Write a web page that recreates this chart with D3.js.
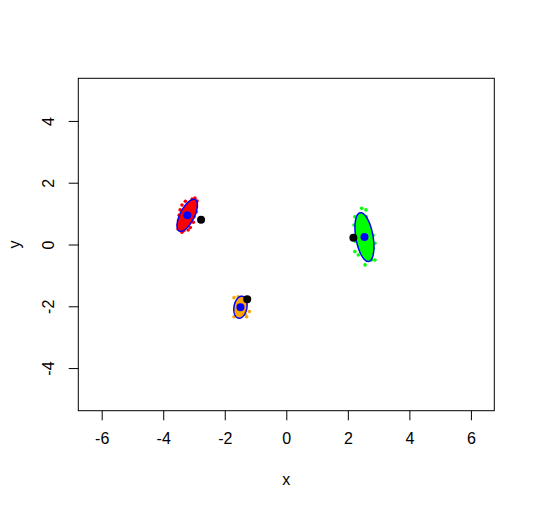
<!DOCTYPE html>
<html>
<head>
<meta charset="utf-8">
<script src="https://cdn.jsdelivr.net/npm/d3@7"></script>
<style>
  body { margin: 0; background: #fff; }
  text { font-family: "Liberation Sans", Arial, sans-serif; }
</style>
</head>
<body>
<svg id="chart" width="535" height="509"></svg>
<script>
// tick values
const xTicks = [-6, -4, -2, 0, 2, 4, 6]
const yTicks = [-4, -2, 0, 2, 4]

// clusters: colour, sample points, fitted ellipse (centre, semi axes, angle in degrees), true mean
const clusterColors = ['red', '#00ff00', 'orange']

const redPoints = [[-2.97, 1.50], [-2.90, 1.41], [-3.06, 1.47], [-3.39, 1.28], [-3.45, 1.12],
  [-3.52, 0.50], [-3.52, 0.63], [-3.39, 0.40], [-3.19, 0.47], [-2.93, 1.05], [-3.02, 0.72],
  [-3.10, 1.30], [-3.30, 0.70], [-3.20, 1.00], [-3.35, 0.85], [-3.05, 1.15], [-3.42, 0.55],
  [-2.98, 1.35], [-3.25, 0.62], [-3.14, 1.20], [-3.48, 0.95], [-3.50, 0.78], [-3.28, 1.40],
  [-2.92, 1.22], [-3.00, 0.90], [-3.33, 0.45], [-3.12, 0.55]]
const greenPoints = [[2.45, 1.17], [2.59, 1.12], [2.23, 0.90], [2.20, 0.63], [2.88, 0.04],
  [2.83, -0.12], [2.23, -0.23], [2.88, -0.50], [2.56, -0.66], [2.77, -0.50], [2.34, -0.34],
  [2.40, 0.80], [2.55, 0.50], [2.65, 0.10], [2.50, -0.20], [2.35, 0.30], [2.70, -0.30],
  [2.45, 0.60], [2.60, 0.90], [2.75, -0.10], [2.25, 0.10], [2.82, 0.30]]
const orangePoints = [[-1.70, -1.72], [-1.56, -1.69], [-1.70, -2.34], [-1.29, -2.34],
  [-1.20, -2.17], [-1.34, -2.26], [-1.55, -1.90], [-1.42, -2.15], [-1.60, -2.20], [-1.38, -1.85]]

const ellipseCenters = [[-3.22, 0.945], [2.54, 0.24], [-1.49, -2.03]]
const ellipseAxes = [[0.57, 0.23], [0.80, 0.28], [0.36, 0.21]]
const ellipseAngles = [63, 100, 80]
const trueMeans = [[-2.77, 0.80], [2.18, 0.22], [-1.27, -1.77]]

const samples = [redPoints, greenPoints, orangePoints]

const plotLeft = 78.3
const plotRight = 494.3
const plotTop = 78.3
const plotBottom = 410.7

const svg = d3.select('#chart')

const xScale = d3.scaleLinear().domain([-6.76, 6.76]).range([plotLeft, plotRight])
const yScale = d3.scaleLinear().domain([-5.38, 5.38]).range([plotBottom, plotTop])

const fmt = d => d < 0 ? '-' + Math.abs(d) : String(d)

// axes
const xAxis = d3.axisBottom(xScale).tickValues(xTicks).tickSize(9.6).tickPadding(12).tickFormat(fmt)
const yAxis = d3.axisLeft(yScale).tickValues(yTicks).tickSize(9.6).tickPadding(8).tickFormat(fmt)

const gx = svg.append('g')
  .attr('transform', `translate(0, ${plotBottom})`)
  .call(xAxis)
gx.select('.domain').remove()
gx.selectAll('line').attr('stroke', '#000')
gx.selectAll('text')
  .attr('font-size', 16)
  .attr('fill', '#000')

const gy = svg.append('g')
  .attr('transform', `translate(${plotLeft}, 0)`)
  .call(yAxis)
gy.select('.domain').remove()
gy.selectAll('line').attr('stroke', '#000')
gy.selectAll('.tick text')
  .attr('font-size', 16)
  .attr('fill', '#000')
  .attr('text-anchor', 'middle')
  .attr('dy', 0)
  .attr('x', 0)
  .attr('y', 0)
  .attr('transform', 'translate(-24, 0) rotate(-90)')

// axis titles
svg.append('text')
  .attr('x', (plotLeft + plotRight) / 2)
  .attr('y', 485)
  .attr('text-anchor', 'middle')
  .attr('font-size', 16)
  .text('x')

svg.append('text')
  .attr('transform', `translate(20, ${(plotTop + plotBottom) / 2}) rotate(-90)`)
  .attr('text-anchor', 'middle')
  .attr('font-size', 16)
  .text('y')

// plot box
svg.append('rect')
  .attr('x', plotLeft)
  .attr('y', plotTop)
  .attr('width', plotRight - plotLeft)
  .attr('height', plotBottom - plotTop)
  .attr('fill', 'none')
  .attr('stroke', '#000')
  .attr('stroke-width', 1)

const plot = svg.append('g')

samples.forEach((pts, i) => {
  plot.selectAll(null)
    .data(pts)
    .join('circle')
    .attr('cx', d => xScale(d[0]))
    .attr('cy', d => yScale(d[1]))
    .attr('r', 1.8)
    .attr('fill', clusterColors[i])
})

const ellipseLine = d3.line()
  .x(d => xScale(d[0]))
  .y(d => yScale(d[1]))

ellipseCenters.forEach((c, i) => {
  const [a, b] = ellipseAxes[i]
  const th = ellipseAngles[i] * Math.PI / 180
  const ring = d3.range(0, 2 * Math.PI + 0.01, Math.PI / 60).map(t => [
    c[0] + a * Math.cos(t) * Math.cos(th) - b * Math.sin(t) * Math.sin(th),
    c[1] + a * Math.cos(t) * Math.sin(th) + b * Math.sin(t) * Math.cos(th)
  ])
  plot.append('path')
    .attr('d', ellipseLine(ring))
    .attr('fill', clusterColors[i])
    .attr('stroke', 'blue')
    .attr('stroke-width', 1.5)
})

plot.selectAll(null)
  .data(ellipseCenters)
  .join('circle')
  .attr('cx', d => xScale(d[0]))
  .attr('cy', d => yScale(d[1]))
  .attr('r', 4)
  .attr('fill', 'blue')

plot.selectAll(null)
  .data(trueMeans)
  .join('circle')
  .attr('cx', d => xScale(d[0]))
  .attr('cy', d => yScale(d[1]))
  .attr('r', 4)
  .attr('fill', '#000')
</script>
</body>
</html>
